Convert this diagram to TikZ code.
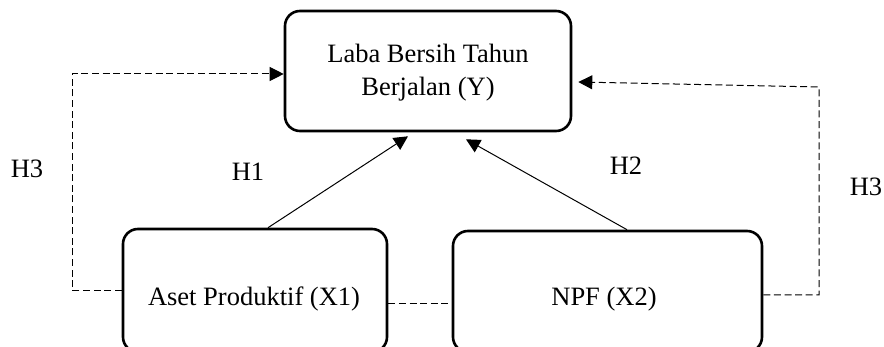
\documentclass[tikz,border=0pt]{standalone}
\usepackage{fontspec}
\setmainfont{Liberation Serif}
\usetikzlibrary{arrows.meta,calc}
\begin{document}
\begin{tikzpicture}[x=0.5pt,y=-0.5pt,
  box/.style={draw,line width=1.3pt,rounded corners=7.5pt,inner sep=0pt},
  txt/.style={inner sep=0pt,align=center,font=\fontsize{13.25}{16.5}\selectfont},
  arr/.style={line width=0.5pt,-{Triangle[length=7pt,width=7pt]}},
  dsh/.style={line width=0.5pt,dash pattern=on 3.5pt off 1.8pt}]
\path[use as bounding box,clip] (0,0) rectangle (884,347);
% boxes
\node[box,minimum width=143pt,minimum height=60pt] (y) at (428,71) {};
\node[txt] (yt) at (428,73) {Laba Bersih Tahun\\Berjalan (Y)};
\node[box,minimum width=132pt,minimum height=61.5pt] (x1) at (255,290.5) {};
\node[txt] (x1t) at (254,299) {Aset Produktif (X1)};
\node[box,minimum width=154.5pt,minimum height=60.5pt] (x2) at (607.5,291.5) {};
\node[txt] (x2t) at (604,299) {NPF (X2)};
% labels
\node[txt] (h3l) at (27,169) {H3};
\node[txt] (h1) at (248,172) {H1};
\node[txt] (h2) at (626,166) {H2};
\node[txt] (h3r) at (866,187) {H3};
% solid arrows
\draw[arr] ([xshift=6.5pt]x1.north) -- ([xshift=-10pt,yshift=-2pt]y.south);
\draw[arr] ([xshift=9.75pt]x2.north) -- ([xshift=19pt,yshift=-3.5pt]y.south);
% dashed connectors
\coordinate (lx) at (72,0);
\coordinate (rx) at (819,0);
\coordinate (rtop) at (819,87);
\draw[dsh,-{Triangle[length=7pt,width=7pt]}] ([yshift=-0pt]x1.west) -- (x1.west -| lx) |- ([yshift=-1.5pt]y.west);
\draw[dsh,-{Triangle[length=7pt,width=7pt]}] ([yshift=-1.75pt]x2.east) -- ([yshift=-1.75pt]x2.east -| rx) -- (rtop) -- ([xshift=3pt,yshift=-5.5pt]y.east);
\draw[dsh] ([yshift=-6.75pt]x1.east) -- ([yshift=-6.75pt]x1.east -| x2.west);
\end{tikzpicture}
\end{document}
